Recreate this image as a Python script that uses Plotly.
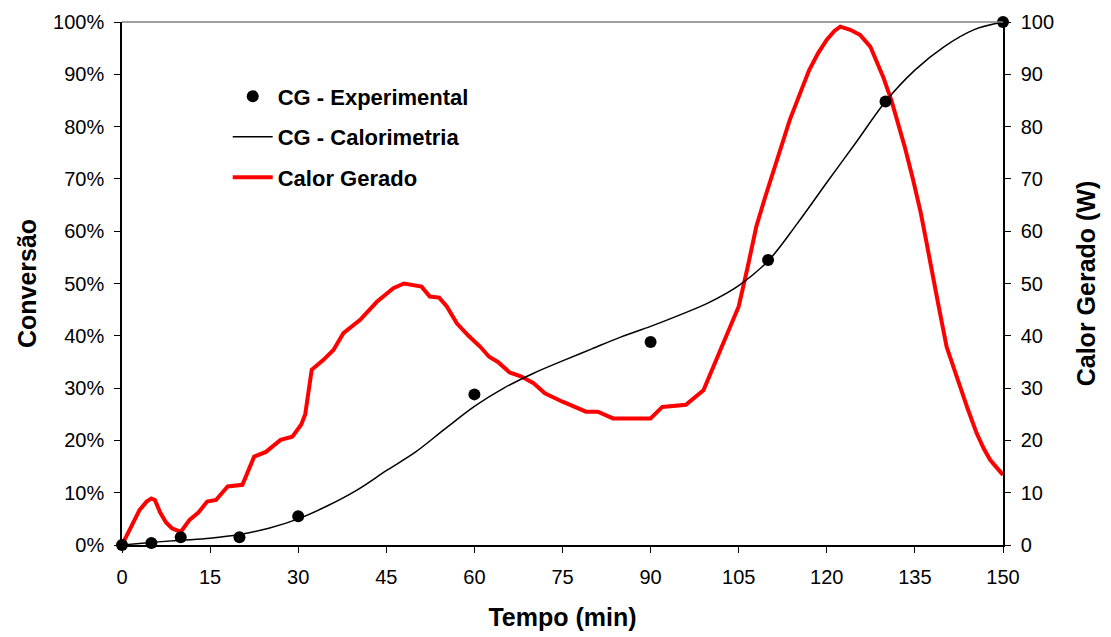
import plotly.graph_objects as go

# Experimental conversion (CG - Experimental)
exp_time = [0, 5, 10, 20, 30, 60, 90, 110, 130, 150]
exp_conv = [0, 0.4, 1.5, 1.5, 5.5, 28.8, 38.8, 54.5, 84.8, 100]

# Calorimetry conversion (CG - Calorimetria)
cal_time = [0, 5, 10, 15, 20, 25, 30, 35, 40, 45, 50, 55, 60, 65, 70, 75, 80, 85, 90,
            95, 100, 105, 110, 115, 120, 125, 130, 135, 140, 145, 150]
cal_conv = [0, 0.5, 0.9, 1.3, 2.0, 3.2, 5.0, 7.5, 10.5, 14.2, 17.8, 22.2, 26.5, 30.0,
            32.8, 35.2, 37.5, 39.8, 41.8, 44.0, 46.4, 49.6, 54.3, 61.5, 69.3, 77.0,
            84.8, 90.8, 95.3, 98.5, 100]

# Heat generated (Calor Gerado, W)
heat_time = [0, 1.5, 3, 4.2, 5, 5.6, 6.5, 7.5, 8.5, 10, 11.5, 13, 14.5, 16, 18, 20.5,
             22.5, 24.5, 27, 29, 30.5, 31.2, 32.3, 34.3, 36, 37.7, 40.5, 43.4, 46.2,
             48, 50, 51, 52.4, 54, 55.3, 57, 59, 61, 62.5, 64, 66, 68, 70, 72, 75, 77,
             79, 81, 83.6, 87, 90, 92, 96, 99, 101.2, 103, 105, 106.5, 108, 109.5, 111,
             112.3, 113.7, 115.5, 117, 118.5, 120, 121.3, 122.3, 124, 125.7, 127.4,
             128.5, 129.6, 131, 132, 133.3, 134.7, 136, 137, 138, 139, 140.4, 141.5,
             142.7, 144, 145.5, 146.7, 147.8, 149, 150]
heat_w = [0, 3.5, 6.7, 8.3, 8.9, 8.6, 6.2, 4.3, 3.2, 2.5, 4.8, 6.2, 8.3, 8.6, 11.2,
          11.5, 16.9, 17.8, 20.1, 20.7, 23.0, 25.0, 33.5, 35.4, 37.3, 40.5, 43.0, 46.5,
          49.1, 50.0, 49.7, 49.4, 47.5, 47.3, 45.6, 42.4, 40.0, 37.9, 36.0, 35.0, 33.0,
          32.2, 31.0, 29.0, 27.4, 26.5, 25.5, 25.5, 24.2, 24.2, 24.2, 26.4, 26.8, 29.6,
          35.4, 40.0, 45.6, 53.0, 60.9, 66.5, 71.7, 76.5, 81.3, 86.5, 90.8, 94.0, 96.6,
          98.3, 99.1, 98.5, 97.5, 95.3, 92.5, 89.5, 85.0, 81.3, 76.0, 69.8, 63.5, 57.7,
          51.5, 45.9, 37.9, 34.0, 30.3, 26.0, 21.4, 18.5, 16.3, 14.7, 13.4]

x_ticks = [0, 15, 30, 45, 60, 75, 90, 105, 120, 135, 150]

FONT = "Liberation Sans, Arial, sans-serif"

fig = go.Figure()

# Heat on primary axis (right side) so it is drawn underneath
fig.add_trace(go.Scatter(
    x=heat_time, y=heat_w, mode="lines", name="Calor Gerado",
    line=dict(color="#FF0000", width=4), yaxis="y", legendgroup="c", legendrank=3,
))
fig.add_trace(go.Scatter(
    x=cal_time, y=cal_conv, mode="lines", name="CG - Calorimetria",
    line=dict(color="black", width=1.5, shape="spline"), yaxis="y2",
    legendgroup="b", legendrank=2,
))
fig.add_trace(go.Scatter(
    x=exp_time, y=exp_conv, mode="markers", name="CG - Experimental",
    marker=dict(color="black", size=12), yaxis="y2", legendgroup="a",
    legendrank=1, cliponaxis=False,
))

fig.update_layout(
    width=1103, height=629,
    margin=dict(l=114, r=108, t=14, b=92),
    paper_bgcolor="white", plot_bgcolor="white",
    font=dict(family=FONT, size=20, color="black"),
    showlegend=True,
    legend=dict(
        x=0.12, y=0.898, xanchor="left", yanchor="top",
        font=dict(family=FONT, size=22, color="black", weight="bold"),
        bgcolor="rgba(0,0,0,0)", traceorder="grouped", tracegroupgap=9,
        itemwidth=40,
    ),
    xaxis=dict(
        range=[0, 150], tickvals=x_ticks, showgrid=False, zeroline=False,
        showline=True, linecolor="black", linewidth=1.5, automargin=False,
        ticks="outside", ticklen=6, tickcolor="black", tickwidth=1,
        ticklabelstandoff=7,
        title=dict(text="Tempo (min)", font=dict(family=FONT, size=25, weight="bold"),
                   standoff=22),
    ),
    yaxis=dict(
        range=[0, 100], dtick=10, side="right", showgrid=False, zeroline=False,
        showline=True, linecolor="black", linewidth=1.5, automargin=False,
        ticks="outside", ticklen=6, tickcolor="black", tickwidth=1,
        ticklabelstandoff=6,
        title=dict(text="Calor Gerado (W)", font=dict(family=FONT, size=25, weight="bold"),
                   standoff=24),
    ),
    yaxis2=dict(
        range=[0, 100], dtick=10, side="left", overlaying="y", showgrid=False,
        zeroline=False, showline=True, linecolor="black", linewidth=1.5,
        automargin=False,
        ticks="outside", ticklen=6, tickcolor="black", tickwidth=1,
        ticksuffix="%", ticklabelstandoff=6,
        title=dict(text="Conversão", font=dict(family=FONT, size=25, weight="bold"),
                   standoff=9),
    ),
    shapes=[dict(type="line", xref="paper", yref="paper", x0=0, x1=1, y0=1, y1=1,
                 line=dict(color="#808080", width=1.5))],
)

fig.write_html("out.html")
